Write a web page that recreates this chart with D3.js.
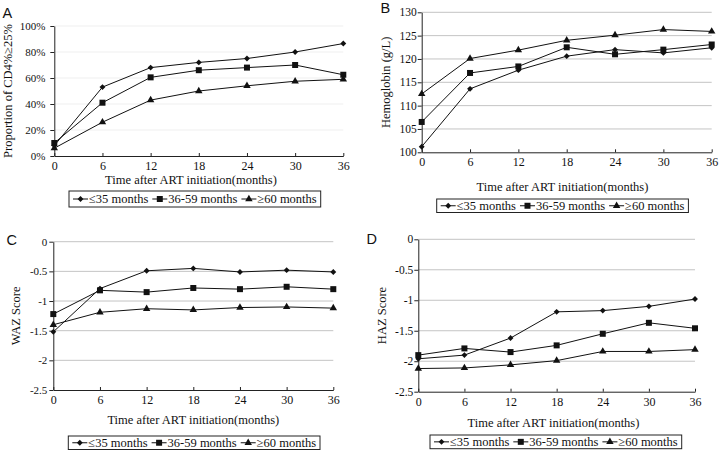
<!DOCTYPE html>
<html><head><meta charset="utf-8">
<script src="https://cdnjs.cloudflare.com/ajax/libs/d3/7.8.5/d3.min.js"></script>
<style>
html,body{margin:0;padding:0;background:#fff;}
svg text{font-family:"Liberation Serif","Times New Roman",Times,serif;fill:#111;}
</style></head>
<body><svg id="c" width="720" height="452"></svg>
<script>
const months = [0, 6, 12, 18, 24, 30, 36];
const seriesNames = ["≤35 months", "36-59 months", "≥60 months"];
const xAxisTitle = "Time after ART initiation(months)";

// Panel A: Proportion of CD4% ≥ 25%
const cd4Le35 = [8, 53, 68, 72, 75, 80, 86.5];
const cd4M36to59 = [10, 41, 60.5, 66, 68, 70, 62.5];
const cd4Ge60 = [6, 26, 43, 50, 54, 57.5, 59];
const cd4Ticks = [0, 20, 40, 60, 80, 100];

// Panel B: Hemoglobin (g/L)
const hbLe35 = [101.2, 113.6, 117.6, 120.6, 122.0, 121.3, 122.4];
const hbM36to59 = [106.5, 117.0, 118.4, 122.5, 121.0, 122.0, 123.1];
const hbGe60 = [112.5, 120.1, 121.9, 124.0, 125.1, 126.3, 125.9];
const hbTicks = [100, 105, 110, 115, 120, 125, 130];

// Panel C: WAZ score
const wazLe35 = [-1.52, -0.79, -0.49, -0.45, -0.51, -0.48, -0.51];
const wazM36to59 = [-1.22, -0.82, -0.85, -0.78, -0.80, -0.76, -0.80];
const wazGe60 = [-1.40, -1.19, -1.13, -1.15, -1.11, -1.10, -1.12];

// Panel D: HAZ score
const hazLe35 = [-1.96, -1.90, -1.62, -1.19, -1.17, -1.10, -0.98];
const hazM36to59 = [-1.90, -1.79, -1.85, -1.74, -1.55, -1.37, -1.46];
const hazGe60 = [-2.12, -2.11, -2.06, -1.99, -1.84, -1.84, -1.81];
const zTicks = [-2.5, -2, -1.5, -1, -0.5, 0];

const SERIF = "'Liberation Serif','Times New Roman',Times,serif";
const zFmt = d => d === 0 ? "0" : String(d);

const panels = [
  {letter:"A", lx:2.5, ly:18.3, x0:54.3, x1:343.3, yTop:26, yBot:156,
   domain:[0,100], ticks:cd4Ticks, fmt:d=>d+"%", yTitle:"Proportion of CD4%≥25%",
   yTitleX:11.5, series:[cd4Le35,cd4M36to59,cd4Ge60], grid:"#efefef", yFont:11, yGap:9,
   xTickY:170, titleY:184, titleX:191, legX:69, legY:191, legH:16},
  {letter:"B", lx:380.5, ly:12.7, x0:421.7, x1:711.7, yTop:12.3, yBot:152.3,
   domain:[100,130], ticks:hbTicks, fmt:d=>d, yTitle:"Hemoglobin (g/L)",
   yTitleX:390, series:[hbLe35,hbM36to59,hbGe60], grid:"#c4c4c4", yFont:11.5, yGap:5,
   xTickY:166.5, titleY:190.5, titleX:562.5, legX:436.7, legY:199, legH:13.5},
  {letter:"C", lx:6.5, ly:245.3, x0:53.3, x1:333.3, yTop:241.7, yBot:390,
   domain:[-2.5,0], ticks:zTicks, fmt:zFmt, yTitle:"WAZ Score",
   yTitleX:19.5, series:[wazLe35,wazM36to59,wazGe60], grid:"#c4c4c4", yFont:11, yGap:6,
   xTickY:404, titleY:423.5, titleX:193.3, legX:68.3, legY:436, legH:13.5},
  {letter:"D", lx:366.5, ly:244.3, x0:418.3, x1:695, yTop:239.3, yBot:391.7,
   domain:[-2.5,0], ticks:zTicks, fmt:zFmt, yTitle:"HAZ Score",
   yTitleX:386, series:[hazLe35,hazM36to59,hazGe60], grid:"#c4c4c4", yFont:11.5, yGap:5,
   xTickY:406, titleY:427, titleX:553.5, legX:430, legY:435, legH:13.7}
];

const svg = d3.select("#c");
const shapes = [d3.symbolDiamond2, d3.symbolSquare, d3.symbolTriangle];
const shapeSizes = [22, 36, 24];

function marker(g, i, x, y) {
  g.append("path")
    .attr("d", d3.symbol().type(shapes[i]).size(shapeSizes[i])())
    .attr("transform", `translate(${x},${y})`)
    .attr("fill", "#111");
}

panels.forEach(p => {
  const g = svg.append("g");
  const x = d3.scaleLinear().domain([0, 36]).range([p.x0, p.x1]);
  const y = d3.scaleLinear().domain(p.domain).range([p.yBot, p.yTop]);

  // gridlines
  g.append("g").selectAll("line").data(p.ticks.filter(t => t !== p.domain[0])).join("line")
    .attr("x1", p.x0).attr("x2", p.x1)
    .attr("y1", d => y(d)).attr("y2", d => y(d))
    .attr("stroke", p.grid).attr("stroke-width", 1);

  // y axis
  const ya = d3.axisLeft(y).tickValues(p.ticks).tickFormat(p.fmt).tickSizeInner(4).tickSizeOuter(0).tickPadding(p.yGap - 4);
  const yg = g.append("g").attr("transform", `translate(${p.x0},0)`).call(ya);
  yg.select(".domain").attr("stroke", "#222");
  yg.selectAll(".tick line").attr("stroke", "#222");
  yg.selectAll("text").attr("font-size", p.yFont).style("font-family", SERIF).attr("fill", "#111");

  // x axis
  const xa = d3.axisBottom(x).tickValues(months).tickSizeInner(-3).tickSizeOuter(0).tickPadding(0);
  const xg = g.append("g").attr("transform", `translate(0,${p.yBot})`).call(xa);
  xg.select(".domain").attr("stroke", "#222");
  xg.selectAll(".tick line").attr("stroke", "#222");
  xg.selectAll("text").attr("font-size", 12).style("font-family", SERIF).attr("fill", "#111")
    .attr("dy", null).attr("y", p.xTickY - p.yBot);

  // titles
  g.append("text").attr("x", p.titleX).attr("y", p.titleY).attr("text-anchor", "middle")
    .attr("font-size", 12.5).style("font-family", SERIF).text(xAxisTitle);
  const yMid = (p.yTop + p.yBot) / 2;
  g.append("text").attr("transform", `translate(${p.yTitleX},${yMid}) rotate(-90)`)
    .attr("text-anchor", "middle").attr("font-size", 12.5).style("font-family", SERIF).text(p.yTitle);
  g.append("text").attr("x", p.lx).attr("y", p.ly).attr("font-size", 14.5)
    .style("font-family", "'Liberation Sans', Arial, sans-serif").text(p.letter);

  // series
  const line = d3.line().x((d, i) => x(months[i])).y(d => y(d));
  p.series.forEach((s, si) => {
    g.append("path").datum(s).attr("d", line).attr("fill", "none").attr("stroke", "#111").attr("stroke-width", 1);
  });
  p.series.forEach((s, si) => {
    s.forEach((v, i) => marker(g, si, x(months[i]), y(v)));
  });

  // legend
  const lg = g.append("g");
  const cy = p.legY + p.legH / 2;
  let cx = p.legX + 4;
  seriesNames.forEach((name, si) => {
    lg.append("line").attr("x1", cx).attr("x2", cx + 15).attr("y1", cy).attr("y2", cy)
      .attr("stroke", "#111").attr("stroke-width", 1);
    marker(lg, si, cx + 7.5, cy);
    const t = lg.append("text").attr("x", cx + 16).attr("y", cy + 4.3).attr("font-size", 12.5)
      .style("font-family", SERIF).text(name);
    cx += 16 + t.node().getComputedTextLength() + 4;
  });
  lg.insert("rect", ":first-child").attr("x", p.legX).attr("y", p.legY)
    .attr("width", cx - p.legX).attr("height", p.legH)
    .attr("fill", "#fff").attr("stroke", "#222").attr("stroke-width", 1);
});
</script></body></html>
